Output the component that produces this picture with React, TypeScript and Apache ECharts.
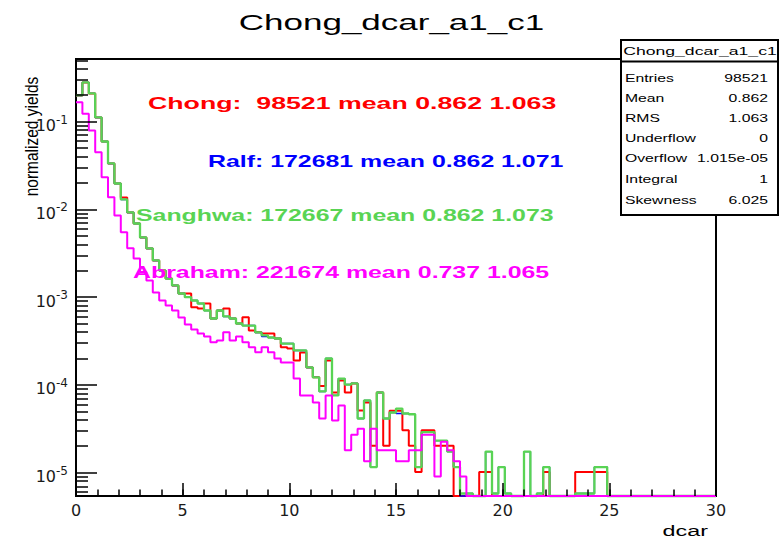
import { useEffect, useRef } from "react";
import * as echarts from "echarts";

// ---------- texts ----------
const TITLE = "Chong_dcar_a1_c1";
const X_TITLE = "dcar";
const Y_TITLE = "normalized yields";

// ---------- axes ----------
const X_MIN = 0;
const X_MAX = 30;
const X_INTERVAL = 5;
const Y_LOG_MIN = -5.266;
const Y_LOG_MAX = -0.286;
const Y_DECADES = [-5, -4, -3, -2, -1];

// ---------- legend info ----------
const seriesLabels = ["Chong:  ", "Ralf: ", "Sanghwa: ", "Abraham: "];
const seriesEntries = ["98521", "172681", "172667", "221674"];
const seriesMeans = ["0.862", "0.862", "0.862", "0.737"];
const seriesRms = ["1.063", "1.071", "1.073", "1.065"];

// ---------- stats box ----------
const statsTitle = "Chong_dcar_a1_c1";
const statsNames = ["Entries", "Mean", "RMS", "Underflow", "Overflow", "Integral", "Skewness"];
const statsValues = ["98521", "0.862", "1.063", "0", "1.015e-05", "1", "6.025"];

// ---------- histogram contents (100 bins, 0..30) ----------
const chongYields = [
  0.199, 0.280, 0.210, 0.1116, 0.0594, 0.0334, 0.01974, 0.01368, 0.00923, 0.00691,
  0.00479, 0.00359, 0.00262, 0.00201, 0.00163, 0.00136, 0.00110, 0.00110, 0.000769, 0.000743,
  0.000847, 0.000571, 0.000705, 0.000743, 0.000571, 0.000501, 0.000592, 0.000417, 0.000399, 0.000385,
  0.000385, 0.000338, 0.000269, 0.000260, 0.000190, 0.000234, 0.000158, 0.000122, 9.73e-5, 0.000190,
  8.20e-5, 0.000112, 8.20e-5, 0.000104, 5.12e-5, 6.31e-5, 2.03e-5, 8.20e-5, 2.03e-5, 5.075e-5,
  5.075e-5, 3.045e-5, 2.03e-5, 1.015e-5, 3.045e-5, 3.045e-5, 2.03e-5, 2.03e-5, 2.03e-5, 0,
  0, 0, 0, 1.015e-5, 1.015e-5, 0, 0, 0, 0, 0,
  0, 0, 0, 1.015e-5, 0, 0, 0, 0, 1.015e-5, 1.015e-5,
  1.015e-5, 1.015e-5, 1.015e-5, 0, 0, 0, 0, 0, 0, 0,
  0, 0, 0, 0, 0, 0, 0, 0, 0, 0,
];

const ralfYields = [
  0.199, 0.280, 0.210, 0.1116, 0.0594, 0.0334, 0.01974, 0.01298, 0.00923, 0.00691,
  0.00479, 0.00359, 0.00262, 0.00201, 0.00163, 0.00136, 0.00110, 0.00100, 0.000916, 0.000847,
  0.000705, 0.000571, 0.000705, 0.000603, 0.000571, 0.000501, 0.000475, 0.000475, 0.000396, 0.000355,
  0.000347, 0.000338, 0.000296, 0.000296, 0.000247, 0.000247, 0.000158, 0.000122, 8.42e-5, 0.000200,
  7.59e-5, 0.000118, 0.000101, 0.000104, 4.14e-5, 6.65e-5, 1.158e-5, 8.20e-5, 4.14e-5, 4.85e-5,
  4.72e-5, 4.72e-5, 4.63e-5, 1.158e-5, 2.896e-5, 2.896e-5, 2.317e-5, 2.317e-5, 1.737e-5, 1.158e-5,
  0, 5.79e-6, 0, 0, 1.737e-5, 5.79e-6, 1.158e-5, 5.79e-6, 0, 0,
  1.737e-5, 0, 5.79e-6, 1.158e-5, 0, 0, 0, 0, 5.79e-6, 5.79e-6,
  5.79e-6, 1.158e-5, 1.158e-5, 0, 0, 0, 0, 0, 0, 0,
  0, 0, 0, 0, 0, 0, 0, 0, 0, 0,
];

const sanghwaYields = [
  0.199, 0.280, 0.210, 0.1116, 0.0594, 0.0334, 0.01974, 0.01298, 0.00923, 0.00691,
  0.00479, 0.00359, 0.00262, 0.00201, 0.00163, 0.00136, 0.00110, 0.00100, 0.000916, 0.000847,
  0.000705, 0.000571, 0.000705, 0.000603, 0.000571, 0.000501, 0.000475, 0.000475, 0.000396, 0.000366,
  0.000347, 0.000338, 0.000296, 0.000296, 0.000247, 0.000247, 0.000158, 0.000122, 8.42e-5, 0.000200,
  7.59e-5, 0.000118, 0.000101, 0.000104, 4.14e-5, 6.65e-5, 1.158e-5, 8.20e-5, 4.14e-5, 4.85e-5,
  5.38e-5, 4.72e-5, 4.63e-5, 1.158e-5, 2.896e-5, 2.896e-5, 2.317e-5, 2.317e-5, 1.737e-5, 1.158e-5,
  5.79e-6, 5.79e-6, 0, 0, 1.737e-5, 5.79e-6, 1.158e-5, 5.79e-6, 0, 0,
  1.737e-5, 0, 5.79e-6, 1.158e-5, 0, 0, 0, 0, 5.79e-6, 5.79e-6,
  5.79e-6, 1.158e-5, 1.158e-5, 0, 0, 0, 0, 0, 0, 0,
  0, 0, 0, 0, 0, 0, 0, 0, 0, 0,
];

const abrahamYields = [
  0.1667, 0.1230, 0.0793, 0.0449, 0.0233, 0.01378, 0.00853, 0.00550, 0.00362, 0.00276,
  0.00193, 0.00155, 0.00113, 0.000916, 0.000804, 0.000705, 0.000586, 0.000489, 0.000428, 0.000385,
  0.000356, 0.000307, 0.000321, 0.000399, 0.000321, 0.000356, 0.000307, 0.000269, 0.000236, 0.000269,
  0.000236, 0.000200, 0.000180, 0.000180, 0.000118, 7.59e-5, 7.59e-5, 6.31e-5, 4.14e-5, 7.59e-5,
  3.94e-5, 5.83e-5, 1.804e-5, 2.707e-5, 3.158e-5, 1.353e-5, 3.158e-5, 1.804e-5, 1.804e-5, 1.804e-5,
  1.353e-5, 1.353e-5, 1.804e-5, 1.804e-5, 2.707e-5, 2.707e-5, 9.02e-6, 2.256e-5, 1.804e-5, 1.353e-5,
  9.02e-6, 0, 0, 0, 0, 0, 0, 0, 0, 0,
  0, 0, 0, 0, 0, 0, 0, 0, 0, 0,
  0, 0, 0, 0, 0, 0, 0, 0, 0, 0,
  0, 0, 0, 0, 0, 0, 0, 0, 0, 0,
];

// ---------- styles ----------
const COLORS = ["#ff0000", "#0000ff", "#59d454", "#ff00ff"];
const LINE_WIDTHS = [2, 1.4, 2.3, 2];
const SX = 1.556; // horizontal stretch of the original canvas text
const FONT = "Liberation Sans";

function histPoints(vals: number[]): [number, number][] {
  const w = (X_MAX - X_MIN) / vals.length;
  const pts: [number, number][] = [];
  vals.forEach((v, i) => {
    let y = v > 0 ? Math.log10(v) : Y_LOG_MIN;
    y = Math.min(Math.max(y, Y_LOG_MIN), Y_LOG_MAX);
    pts.push([X_MIN + i * w, y], [X_MIN + (i + 1) * w, y]);
  });
  return pts;
}

function minorLogTicks(): number[] {
  const out: number[] = [];
  for (let n = -7; n <= 0; n++) {
    for (let k = 2; k <= 9; k++) {
      const v = n + Math.log10(k);
      if (v > Y_LOG_MIN && v < Y_LOG_MAX) out.push(v);
    }
  }
  return out;
}

function stext(
  text: string,
  x: number,
  y: number,
  o: { size: number; color?: string; bold?: boolean; align?: string; sx?: number }
) {
  return {
    type: "text",
    x,
    y,
    scaleX: o.sx ?? SX,
    z: 110,
    silent: true,
    style: {
      text,
      fill: o.color ?? "#000",
      fontSize: o.size,
      fontFamily: FONT,
      fontWeight: o.bold ? "bold" : "normal",
      align: o.align ?? "left",
      verticalAlign: "middle",
    },
  };
}

export default function App() {
  const ref = useRef<HTMLDivElement>(null);

  useEffect(() => {
    if (!ref.current) return;
    const chart = echarts.init(ref.current, null, { renderer: "svg" });

    const allYields = [chongYields, ralfYields, sanghwaYields, abrahamYields];
    const names = ["Chong", "Ralf", "Sanghwa", "Abraham"];

    const tickLine = { color: "#000", width: 1.5 };

    const legendX = [148, 208, 136, 133];
    const legendY = [104, 161, 215, 272];
    const legendSX = [1.67, SX, SX, SX];

    const statsRowY = [78, 98, 118, 138, 158, 179, 200];

    const graphics: any[] = [
      stext(TITLE, 391.5, 22, { size: 22.5, align: "center" }),
      stext(X_TITLE, 708, 531, { size: 15, align: "right" }),
      {
        type: "text",
        x: 32,
        y: 136.5,
        rotation: Math.PI / 2,
        scaleY: 1.15,
        z: 110,
        silent: true,
        style: {
          text: Y_TITLE,
          fill: "#000",
          fontSize: 15.5,
          fontFamily: FONT,
          align: "center",
          verticalAlign: "middle",
        },
      },
      ...seriesLabels.map((lab, i) =>
        stext(
          `${lab}${seriesEntries[i]} mean ${seriesMeans[i]} ${seriesRms[i]}`,
          legendX[i],
          legendY[i],
          { size: 16, bold: true, color: COLORS[i], sx: legendSX[i] }
        )
      ),
      {
        type: "rect",
        z: 100,
        silent: true,
        shape: { x: 621, y: 40, width: 157, height: 175 },
        style: { fill: "#fff", stroke: "#000", lineWidth: 2 },
      },
      {
        type: "line",
        z: 101,
        silent: true,
        shape: { x1: 621, y1: 61.5, x2: 778, y2: 61.5 },
        style: { stroke: "#000", lineWidth: 2 },
      },
      stext(statsTitle, 700, 51, { size: 11, align: "center", sx: 1.6 }),
      ...statsNames.map((n, i) => stext(n, 625, statsRowY[i], { size: 10.5, sx: 1.5 })),
      ...statsValues.map((v, i) => stext(v, 768, statsRowY[i], { size: 10.5, align: "right", sx: 1.5 })),
    ];

    const option: any = {
      animation: false,
      backgroundColor: "#fff",
      grid: {
        left: 76,
        top: 59,
        width: 640,
        height: 437,
        show: true,
        borderColor: "#000",
        borderWidth: 2,
        backgroundColor: "transparent",
      },
      xAxis: [
        {
          type: "value",
          min: X_MIN,
          max: X_MAX,
          interval: X_INTERVAL,
          position: "bottom",
          z: 5,
          axisLine: { show: false },
          axisTick: { show: true, inside: true, length: 13, lineStyle: tickLine },
          axisLabel: {
            margin: 6,
            fontSize: 16,
            fontFamily: "DejaVu Sans",
            color: "#1a1a1a",
            showMinLabel: true,
            showMaxLabel: true,
          },
          splitLine: { show: false },
        },
        {
          type: "value",
          min: X_MIN,
          max: X_MAX,
          interval: 1,
          position: "bottom",
          z: 5,
          axisLine: { show: false },
          axisTick: { show: true, inside: true, length: 6.5, lineStyle: tickLine },
          axisLabel: { show: false },
          splitLine: { show: false },
        },
      ],
      yAxis: [
        {
          type: "value",
          min: Y_LOG_MIN,
          max: Y_LOG_MAX,
          position: "left",
          z: 5,
          axisLine: { show: false },
          axisTick: { show: true, inside: true, length: 21, customValues: Y_DECADES, lineStyle: tickLine },
          axisLabel: {
            customValues: Y_DECADES,
            margin: 8,
            formatter: (v: number) => `{b|10}{s|${Math.round(v)}}`,
            rich: {
              b: {
                fontSize: 16,
                fontFamily: "DejaVu Sans",
                color: "#1a1a1a",
                lineHeight: 16,
                padding: [8, 0, 0, 0],
              },
              s: {
                fontSize: 12,
                fontFamily: "DejaVu Sans",
                color: "#1a1a1a",
                lineHeight: 12,
                verticalAlign: "top",
              },
            },
          },
          splitLine: { show: false },
        },
        {
          type: "value",
          min: Y_LOG_MIN,
          max: Y_LOG_MAX,
          position: "left",
          z: 5,
          axisLine: { show: false },
          axisTick: { show: true, inside: true, length: 12, customValues: minorLogTicks(), lineStyle: tickLine },
          axisLabel: { show: false },
          splitLine: { show: false },
        },
      ],
      series: allYields.map((vals, i) => ({
        name: names[i],
        type: "line",
        xAxisIndex: 0,
        yAxisIndex: 0,
        data: histPoints(vals),
        symbol: "none",
        showSymbol: false,
        clip: false,
        silent: true,
        z: 2 + i * 0.01,
        lineStyle: { color: COLORS[i], width: LINE_WIDTHS[i] },
        itemStyle: { color: COLORS[i] },
      })),
      graphic: { elements: graphics },
    };

    chart.setOption(option);
    return () => chart.dispose();
  }, []);

  return (
    <div
      ref={ref}
      style={{ position: "fixed", left: 0, top: 0, width: 784, height: 539, background: "#fff" }}
    />
  );
}
